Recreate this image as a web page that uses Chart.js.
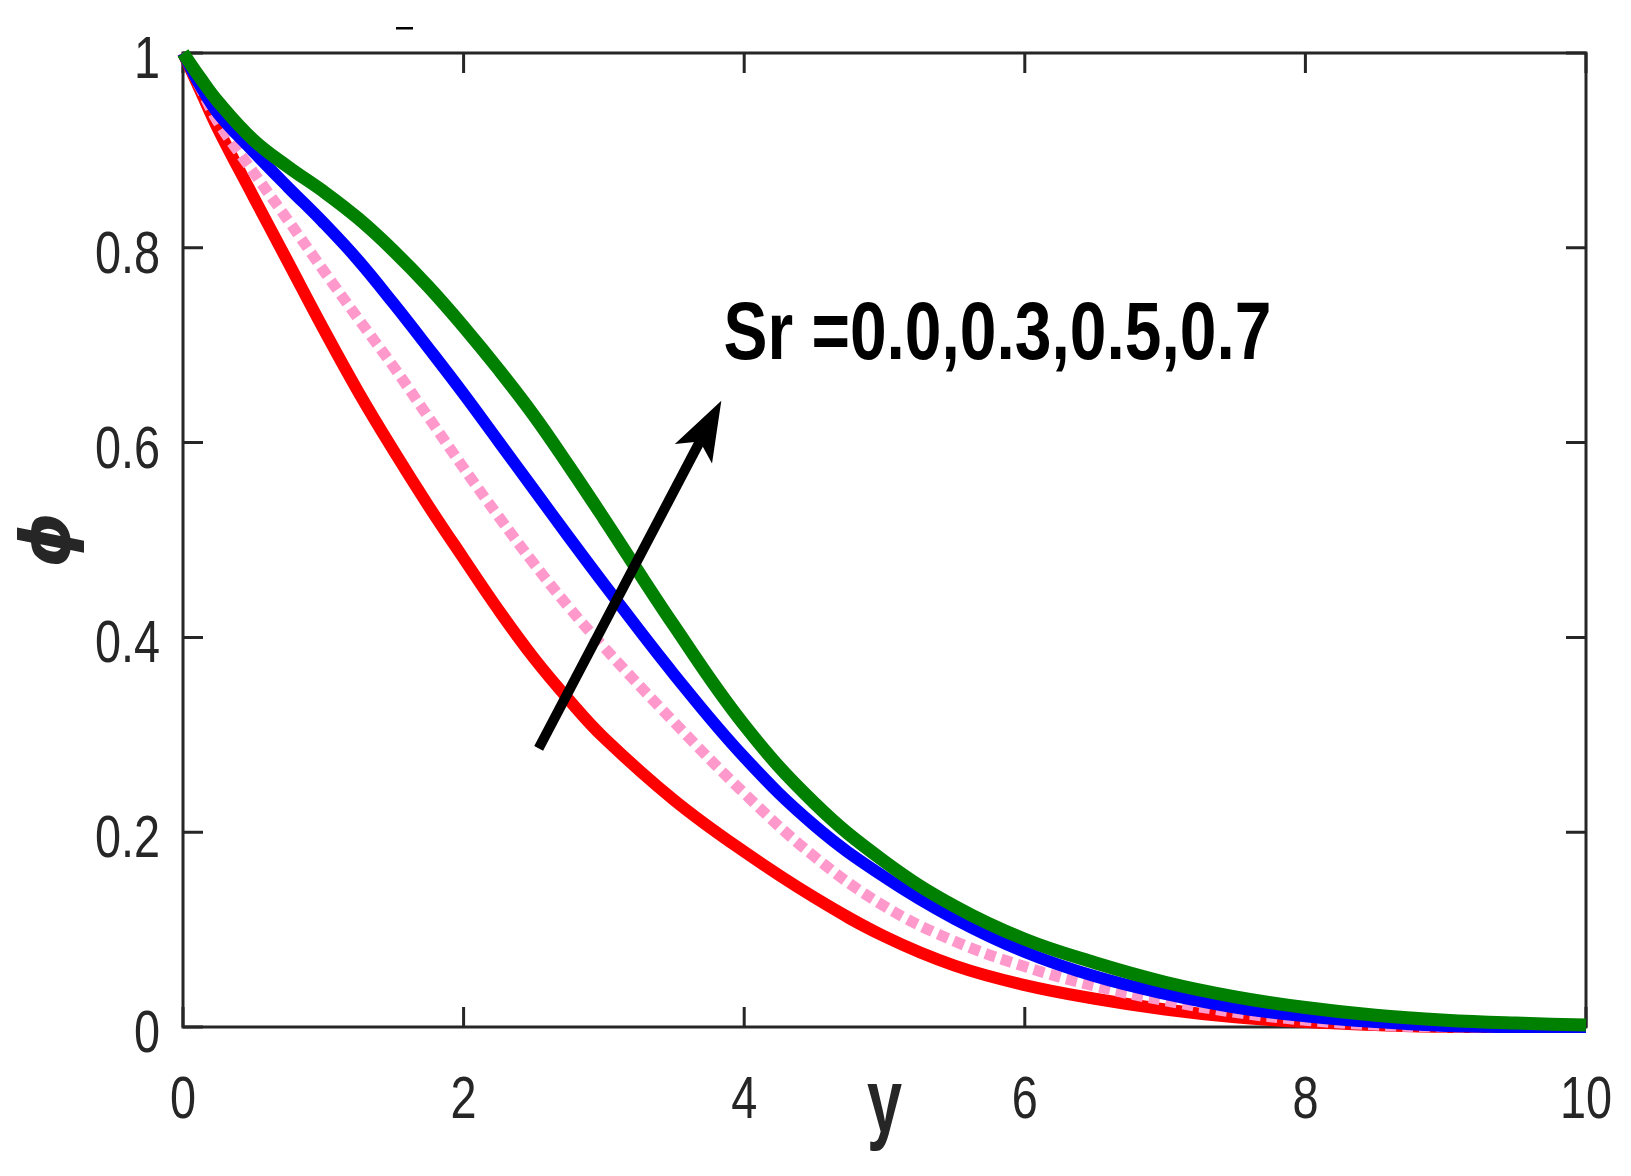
<!DOCTYPE html>
<html>
<head>
<meta charset="utf-8">
<script src="https://cdn.jsdelivr.net/npm/chart.js@4.4.1/dist/chart.umd.min.js"></script>
<style>
  html, body { margin: 0; padding: 0; background: #ffffff; }
  #wrap { width: 1631px; height: 1176px; position: relative; }
</style>
</head>
<body>
<div id="wrap"><canvas id="chart"></canvas></div>
<script>
// ---------- data ----------
const yValues = [0, 0.125, 0.25, 0.5, 0.75, 1, 1.25, 1.5, 1.75, 2, 2.25, 2.5, 2.75, 3, 3.5, 4, 4.5, 5, 5.5, 6, 6.5, 7, 7.5, 8, 8.5, 9, 9.5, 10];

const phiSr00 = [1, 0.961, 0.922, 0.853, 0.785, 0.717, 0.652, 0.592, 0.535, 0.481, 0.428, 0.379, 0.336, 0.297, 0.233, 0.180, 0.133, 0.093, 0.063, 0.043, 0.029, 0.018, 0.010, 0.005, 0.002, 0, 0, 0];
const phiSr03 = [1, 0.964, 0.929, 0.878, 0.828, 0.777, 0.727, 0.678, 0.626, 0.574, 0.524, 0.476, 0.431, 0.390, 0.313, 0.240, 0.175, 0.124, 0.088, 0.062, 0.042, 0.027, 0.015, 0.007, 0.002, 0, 0, 0];
const phiSr05 = [1, 0.966, 0.938, 0.899, 0.862, 0.826, 0.787, 0.743, 0.697, 0.650, 0.601, 0.552, 0.503, 0.455, 0.362, 0.277, 0.207, 0.154, 0.111, 0.077, 0.052, 0.034, 0.020, 0.011, 0.005, 0.001, 0, 0];
const phiSr07 = [1, 0.974, 0.950, 0.911, 0.883, 0.858, 0.830, 0.797, 0.760, 0.719, 0.675, 0.628, 0.576, 0.522, 0.412, 0.310, 0.230, 0.170, 0.124, 0.090, 0.066, 0.046, 0.031, 0.020, 0.012, 0.007, 0.004, 0.002];

const seriesNames = ['Sr = 0.0', 'Sr = 0.3', 'Sr = 0.5', 'Sr = 0.7'];

const xTickValues = [0, 2, 4, 6, 8, 10];
const xTickLabels = ['0', '2', '4', '6', '8', '10'];
const yTickValues = [0, 0.2, 0.4, 0.6, 0.8, 1];
const yTickLabels = ['0', '0.2', '0.4', '0.6', '0.8', '1'];

const xAxisTitle = 'y';
const yAxisTitle = '\u03D5';
const annotationText = 'Sr =0.0,0.3,0.5,0.7';

// ---------- helpers ----------
const toPoints = (arr) => yValues.map((x, i) => ({ x: x, y: arr[i] }));
const axisColor = '#262626';

function condensedText(ctx, text, x, y, font, sx, align, color) {
  ctx.save();
  ctx.font = font;
  ctx.fillStyle = color;
  ctx.textAlign = align;
  ctx.textBaseline = 'alphabetic';
  ctx.translate(x, y);
  ctx.scale(sx, 1);
  ctx.fillText(text, 0, 0);
  ctx.restore();
}

const decorPlugin = {
  id: 'decor',
  beforeDatasetsDraw(chart) {
    const { ctx, chartArea: a, scales: { x, y } } = chart;
    ctx.save();
    ctx.strokeStyle = axisColor;
    ctx.lineWidth = 3;
    ctx.lineCap = 'butt';
    ctx.strokeRect(a.left, a.top, a.right - a.left, a.bottom - a.top);
    ctx.beginPath();
    const tl = 20;
    xTickValues.forEach(v => {
      const px = x.getPixelForValue(v);
      ctx.moveTo(px, a.bottom); ctx.lineTo(px, a.bottom - tl);
      ctx.moveTo(px, a.top); ctx.lineTo(px, a.top + tl);
    });
    yTickValues.forEach(v => {
      const py = y.getPixelForValue(v);
      ctx.moveTo(a.left, py); ctx.lineTo(a.left + tl, py);
      ctx.moveTo(a.right, py); ctx.lineTo(a.right - tl, py);
    });
    ctx.stroke();
    ctx.restore();

    // tick labels (condensed Helvetica-like face, as in the original)
    const tickFont = "60px 'Liberation Sans', Arial, sans-serif";
    xTickValues.forEach((v, i) => {
      condensedText(ctx, xTickLabels[i], x.getPixelForValue(v), a.bottom + 91, tickFont, 0.78, 'center', axisColor);
    });
    yTickValues.forEach((v, i) => {
      condensedText(ctx, yTickLabels[i], a.left - 23, y.getPixelForValue(v) + 25, tickFont, 0.78, 'right', axisColor);
    });
    // x axis title
    condensedText(ctx, xAxisTitle, (a.left + a.right) / 2, a.bottom + 105, "bold 90px 'Liberation Sans', Arial, sans-serif", 0.7, 'center', axisColor);

    // small stray mark above the frame (remnant of a title in the original)
    ctx.save();
    ctx.fillStyle = '#000000';
    ctx.fillRect(a.left + 213, a.top - 26, 17, 2.5);
    ctx.restore();
  },
  afterDatasetsDraw(chart) {
    const { ctx, scales: { x, y } } = chart;
    ctx.save();
    // arrow
    const tx = x.getPixelForValue(2.535), ty = y.getPixelForValue(0.286);
    const hx = x.getPixelForValue(3.837), hy = y.getPixelForValue(0.643);
    const dx = hx - tx, dy = hy - ty, len = Math.hypot(dx, dy);
    const ux = dx / len, uy = dy / len, px = -uy, py = ux;
    const headLen = 60, headHalf = 21, notch = 46;
    ctx.strokeStyle = '#000000';
    ctx.fillStyle = '#000000';
    ctx.lineWidth = 10;
    ctx.lineCap = 'butt';
    ctx.beginPath();
    ctx.moveTo(tx, ty);
    ctx.lineTo(hx - ux * (notch - 2), hy - uy * (notch - 2));
    ctx.stroke();
    ctx.beginPath();
    ctx.moveTo(hx, hy);
    ctx.lineTo(hx - ux * headLen + px * headHalf, hy - uy * headLen + py * headHalf);
    ctx.lineTo(hx - ux * notch, hy - uy * notch);
    ctx.lineTo(hx - ux * headLen - px * headHalf, hy - uy * headLen - py * headHalf);
    ctx.closePath();
    ctx.fill();
    ctx.restore();
    // annotation text
    ctx.save();
    ctx.font = "bold 82px 'Liberation Sans', Arial, sans-serif";
    const w = ctx.measureText(annotationText).width;
    ctx.restore();
    condensedText(ctx, annotationText, x.getPixelForValue(3.852), y.getPixelForValue(0.6855),
      "bold 82px 'Liberation Sans', Arial, sans-serif", 548 / w, 'left', '#000000');
  }
};

const common = { showLine: true, pointRadius: 0, pointHoverRadius: 0, fill: false, tension: 0.4, clip: false, borderCapStyle: 'butt', borderJoinStyle: 'round' };

new Chart(document.getElementById('chart'), {
  type: 'scatter',
  data: {
    datasets: [
      Object.assign({}, common, { label: seriesNames[0], data: toPoints(phiSr00), borderColor: '#ff0000', borderWidth: 12, order: 3 }),
      Object.assign({}, common, { label: seriesNames[1], data: toPoints(phiSr03), borderColor: '#ff99cc', borderWidth: 11, borderDash: [11, 6], order: 2 }),
      Object.assign({}, common, { label: seriesNames[2], data: toPoints(phiSr05), borderColor: '#0000ff', borderWidth: 12, order: 1 }),
      Object.assign({}, common, { label: seriesNames[3], data: toPoints(phiSr07), borderColor: '#008000', borderWidth: 13, order: 0 })
    ]
  },
  options: {
    responsive: true,
    maintainAspectRatio: false,
    devicePixelRatio: 1,
    animation: false,
    events: [],
    layout: { padding: { top: 53, right: 45, bottom: 0, left: 0 } },
    plugins: { legend: { display: false }, tooltip: { enabled: false }, title: { display: false } },
    scales: {
      x: {
        type: 'linear', min: 0, max: 10,
        afterBuildTicks: (s) => { s.ticks = xTickValues.map(v => ({ value: v })); },
        afterFit: (s) => { s.height = 149; },
        grid: { display: false, drawTicks: false },
        border: { display: false },
        ticks: { display: false },
        title: { display: false, text: xAxisTitle }
      },
      y: {
        type: 'linear', min: 0, max: 1,
        afterBuildTicks: (s) => { s.ticks = yTickValues.map(v => ({ value: v })); },
        afterFit: (s) => { s.width = 183; },
        grid: { display: false, drawTicks: false },
        border: { display: false },
        ticks: { display: false },
        title: {
          display: true, text: yAxisTitle, color: axisColor,
          font: { family: "'DejaVu Sans', sans-serif", size: 70, weight: 'bold', style: 'italic' },
          padding: { top: 10, bottom: 0 }
        }
      }
    }
  },
  plugins: [decorPlugin]
});
</script>
</body>
</html>
